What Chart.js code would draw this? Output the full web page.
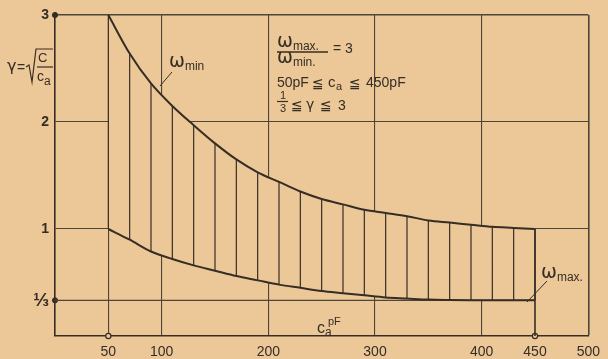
<!DOCTYPE html>
<html>
<head>
<meta charset="utf-8">
<script src="https://cdn.jsdelivr.net/npm/chart.js@4"></script>
<style>
  html, body { margin: 0; padding: 0; background: #ecc898; }
  #wrap { width: 608px; height: 359px; }
</style>
</head>
<body>
<div id="wrap"><canvas id="grafico"></canvas></div>
<script>
// ====================================
// gamma = sqrt(C / c_a) over c_a (pF)
// ====================================

// c_a values (pF) where the hatching stands
const capacitance = [50, 70, 90, 110, 130, 150, 170, 190, 210, 230, 250, 270, 290, 310, 330, 350, 370, 390, 410, 430, 450];
// upper edge, omega_min curve
const gammaMin = [3.00, 2.64, 2.36, 2.15, 1.97, 1.80, 1.65, 1.53, 1.44, 1.35, 1.28, 1.23, 1.18, 1.15, 1.12, 1.08, 1.06, 1.04, 1.02, 1.01, 1.00];
// lower edge, omega_max curve
const gammaMax = [1.00, 0.90, 0.79, 0.72, 0.66, 0.61, 0.56, 0.52, 0.48, 0.45, 0.42, 0.40, 0.38, 0.36, 0.35, 0.34, 0.336, 0.334, 0.333, 0.333, 0.333];

// ticks
const xTicks = [50, 100, 200, 300, 400, 450, 500];
const yTicks = [1 / 3, 1, 2, 3];
const yTickLabels = ['⅓', '1', '2', '3'];

// marks on the axes
const axisDotsY = [3, 1 / 3];
const axisRingsX = [50, 450];

const paper = '#ecc898';
const ink = '#362d25';
const gridInk = '#4d443a';
const fam = "'Liberation Sans', 'DejaVu Sans', sans-serif";
const greek = "'DejaVu Sans', sans-serif";

//points for the curves and the hatching
const upper = capacitance.map((c, i) => ({ x: c, y: gammaMin[i] }));
const lower = capacitance.map((c, i) => ({ x: c, y: gammaMax[i] }));
const hatch = [];
capacitance.forEach((c, i) => {
    hatch.push({ x: c, y: gammaMax[i] }, { x: c, y: gammaMin[i] }, { x: c, y: null });
});
const lastC = capacitance[capacitance.length - 1];
const rightEdge = [{ x: lastC, y: 0 }, { x: lastC, y: gammaMin[gammaMin.length - 1] }];
const thirdLine = [{ x: 0, y: yTicks[0] }, { x: lastC, y: yTicks[0] }];
const dots = axisDotsY.map(v => ({ x: 0, y: v }));
const rings = axisRingsX.map(v => ({ x: v, y: 0 }));

const isTick = (a, b) => Math.abs(a - b) < 1e-6;

//text drawn on top of the chart
const notas = {
    id: 'notas',
    afterDraw(chart) {
        const ctx = chart.ctx;
        ctx.save();
        ctx.fillStyle = ink;
        ctx.strokeStyle = ink;
        ctx.textBaseline = 'alphabetic';
        const t = (s, x, y, size, f) => {
            ctx.font = size + 'px ' + (f || fam);
            ctx.fillText(s, x, y);
            return x + ctx.measureText(s).width;
        };
        const ln = (pts, w) => {
            ctx.lineWidth = w;
            ctx.beginPath();
            pts.forEach((p, i) => i ? ctx.lineTo(p[0], p[1]) : ctx.moveTo(p[0], p[1]));
            ctx.stroke();
        };
        // omega with a small index right after it
        const omega = (sub, x, y) => {
            const end = t('ω', x, y, 19, greek);
            t(sub, end, y + 3, 12);
        };

        // y axis title: gamma = sqrt(C / c_a)
        t('γ', 7, 71, 16, greek);
        t('=', 17, 72, 14);
        ln([[26, 67], [29, 65], [32, 82], [36, 49], [53, 49]], 1.2);
        t('C', 38, 62, 13);
        ln([[37, 67], [53, 67]], 1.2);
        t('c', 37, 81, 14);
        t('a', 44, 85, 12);

        // x axis title: c_a pF
        t('c', 317, 333, 16);
        t('a', 325, 336, 12);
        t('pF', 328, 325, 11);

        // box with the conditions
        omega('max.', 277, 47);
        ln([[277, 52], [328, 52]], 1.4);
        omega('min.', 277, 63);
        t('= 3', 333, 53, 14);

        t('50pF', 277, 87, 14);
        t('≦', 312, 88, 14, greek);
        t('c', 328, 87, 15);
        t('a', 336, 90, 11);
        t('≦', 349, 88, 14, greek);
        t('450pF', 366, 87, 14);

        t('1', 280, 99, 11);
        ln([[277, 101.5], [288, 101.5]], 1.2);
        t('3', 280, 112, 11);
        t('≦', 291, 110, 14, greek);
        t('γ', 306, 109, 14, greek);
        t('≦', 320, 110, 14, greek);
        t('3', 338, 110, 14);

        // curve names with leaders
        omega('min', 169, 67);
        ln([[172, 72], [160, 86]], 1);
        omega('max.', 541, 278);
        ln([[547, 281], [527, 302]], 1);

        ctx.restore();
    }
};

new Chart(document.getElementById('grafico'), {
    type: 'line',
    data: {
        datasets: [
            {
                label: 'omega min',
                data: upper,
                borderColor: ink,
                borderWidth: 2,
                backgroundColor: paper,
                fill: '+1',
                cubicInterpolationMode: 'monotone',
                pointRadius: 0,
                clip: false
            },
            {
                label: 'omega max',
                data: lower,
                borderColor: ink,
                borderWidth: 2,
                fill: false,
                cubicInterpolationMode: 'monotone',
                pointRadius: 0,
                clip: false
            },
            {
                label: 'hatch',
                data: hatch,
                borderColor: ink,
                borderWidth: 1.2,
                pointRadius: 0,
                spanGaps: false,
                fill: false
            },
            {
                label: 'edge',
                data: rightEdge,
                borderColor: ink,
                borderWidth: 1.6,
                pointRadius: 0,
                fill: false
            },
            {
                label: 'third',
                data: thirdLine,
                borderColor: gridInk,
                borderWidth: 1.2,
                pointRadius: 0,
                fill: false
            },
            {
                label: 'dots',
                data: dots,
                showLine: false,
                pointRadius: 2.6,
                pointBackgroundColor: ink,
                pointBorderColor: ink,
                clip: false
            },
            {
                label: 'rings',
                data: rings,
                showLine: false,
                pointRadius: 2.6,
                pointBorderWidth: 1.2,
                pointBackgroundColor: paper,
                pointBorderColor: ink,
                clip: false
            }
        ]
    },
    options: {
        responsive: true,
        maintainAspectRatio: false,
        animation: false,
        events: [],
        layout: { padding: { top: 15, right: 15, left: 0, bottom: 0 } },
        plugins: {
            legend: { display: false },
            tooltip: { enabled: false },
            filler: { drawTime: 'beforeDatasetsDraw' }
        },
        scales: {
            x: {
                type: 'linear',
                min: 0,
                max: 500,
                afterBuildTicks: s => { s.ticks = [0, ...xTicks].map(v => ({ value: v })); },
                afterFit: s => { s.height = 23; },
                grid: {
                    drawTicks: false,
                    color: c => (c.tick && (c.tick.value === 0 || c.tick.value === lastC)) ? 'rgba(0,0,0,0)' : gridInk,
                    lineWidth: c => (c.tick && c.tick.value === 500) ? 1.6 : 1.1
                },
                border: { color: ink, width: 1.6 },
                ticks: {
                    padding: 8,
                    color: ink,
                    autoSkip: false,
                    maxRotation: 0,
                    font: { family: fam, size: 14 },
                    callback: v => v === 0 ? '' : String(v)
                }
            },
            y: {
                type: 'linear',
                min: 0,
                max: 3,
                afterBuildTicks: s => { s.ticks = [0, ...yTicks].map(v => ({ value: v })); },
                afterFit: s => { s.width = 55; },
                grid: {
                    drawTicks: false,
                    color: c => (c.tick && (c.tick.value === 0 || isTick(c.tick.value, yTicks[0]))) ? 'rgba(0,0,0,0)' : gridInk,
                    lineWidth: c => (c.tick && c.tick.value === 3) ? 1.6 : 1.1
                },
                border: { color: ink, width: 1.6 },
                ticks: {
                    padding: 6,
                    color: ink,
                    autoSkip: false,
                    font: c => ({ family: fam, weight: 'bold', size: (c.tick && isTick(c.tick.value, yTicks[0])) ? 19 : 14 }),
                    callback: v => {
                        const i = yTicks.findIndex(k => isTick(k, v));
                        return i < 0 ? '' : yTickLabels[i];
                    }
                }
            }
        }
    },
    plugins: [notas]
});
</script>
</body>
</html>
